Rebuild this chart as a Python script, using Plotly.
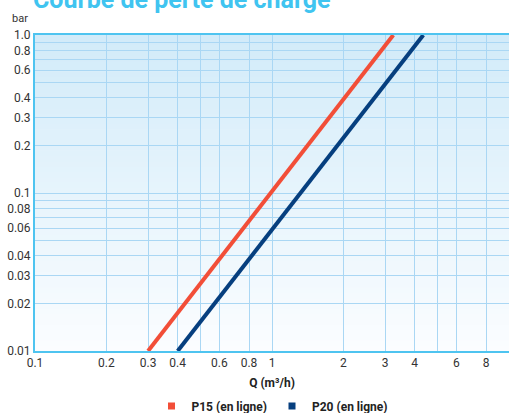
import plotly.graph_objects as go

# Data
q_p15 = [0.3, 3.25]          # Q (m3/h)
dp_p15 = [0.01, 1.0]         # bar
q_p20 = [0.4, 4.35]
dp_p20 = [0.01, 1.0]

x_grid = [0.1, 0.2, 0.3, 0.4, 0.5, 0.6, 0.8, 1, 2, 3, 4, 5, 6, 8, 10]
x_labels = ["0.1", "0.2", "0.3", "0.4", "", "0.6", "0.8", "1", "2", "3", "4", "", "6", "8", "10"]
y_grid = [0.01, 0.02, 0.03, 0.04, 0.05, 0.06, 0.07, 0.08, 0.09,
          0.1, 0.2, 0.3, 0.4, 0.5, 0.6, 0.7, 0.8, 0.9, 1.0]
y_labels = ["0.01", "0.02", "0.03", "0.04", "", "0.06", "", "0.08", "",
            "0.1", "0.2", "0.3", "0.4", "", "0.6", "", "0.8", "", "1.0"]

RED = "#f24e38"
BLUE = "#063f7f"
GRID = "#aad7f4"
AXIS = "#4ec4f0"

fig = go.Figure()
fig.add_trace(go.Scatter(x=q_p15, y=dp_p15, mode="lines", line=dict(color=RED, width=4),
                         showlegend=False))
fig.add_trace(go.Scatter(x=q_p20, y=dp_p20, mode="lines", line=dict(color=BLUE, width=4),
                         showlegend=False))
# legend entries with square symbols
fig.add_trace(go.Scatter(x=[None], y=[None], mode="markers", name="P15 (en ligne)",
                         marker=dict(symbol="square", size=7, color=RED)))
fig.add_trace(go.Scatter(x=[None], y=[None], mode="markers", name="P20 (en ligne)",
                         marker=dict(symbol="square", size=7, color=BLUE)))

# vertical gradient background
N = 60
top = (210, 235, 249)
bot = (251, 253, 255)
shapes = []
for i in range(N):
    t = (i + 0.5) / N  # 0 bottom -> 1 top
    c = tuple(int(round(bot[k] + (top[k] - bot[k]) * t)) for k in range(3))
    shapes.append(dict(type="rect", xref="paper", yref="paper", x0=0, x1=1,
                       y0=i / N, y1=(i + 1) / N + 0.002, fillcolor="rgb(%d,%d,%d)" % c,
                       line=dict(width=0), layer="below"))

font_family = "Roboto, Open Sans, sans-serif"

fig.update_layout(
    width=509, height=413,
    margin=dict(l=35, r=0, t=35, b=62, autoexpand=False),
    paper_bgcolor="white", plot_bgcolor="white",
    shapes=shapes,
    font=dict(family=font_family, size=12, color="#333333"),
    legend=dict(orientation="h", x=0.5, xanchor="center", y=-0.174, yanchor="middle",
                font=dict(size=12, color="#222222", family=font_family, weight="bold"),
                itemwidth=30, bgcolor="rgba(0,0,0,0)"),
    annotations=[
        dict(text="<b>Courbe de perte de charge</b>", xref="paper", yref="paper",
             x=-0.008, y=1.060, xanchor="left", yanchor="bottom", showarrow=False,
             font=dict(size=25, color="#40c4f0")),
        dict(text="bar", xref="paper", yref="paper", x=-0.01, y=1.053,
             xanchor="right", yanchor="middle", showarrow=False,
             font=dict(size=11, color="#333333")),
    ],
)
fig.update_xaxes(type="log", range=[-1, 1], tickmode="array", tickvals=x_grid, ticktext=x_labels,
                 showgrid=True, gridcolor=GRID, gridwidth=1.3, automargin=False,
                 showline=True, linecolor=AXIS, linewidth=2, mirror=True,
                 zeroline=False, ticks="", tickfont=dict(size=12),
                 title=dict(text="<b>Q (m³/h)</b>", font=dict(size=12, color="#222222"), standoff=9))
fig.update_yaxes(type="log", range=[-2, 0], tickmode="array", tickvals=y_grid, ticktext=y_labels,
                 showgrid=True, gridcolor=GRID, gridwidth=1.3, automargin=False,
                 showline=True, linecolor=AXIS, linewidth=2, mirror=True,
                 zeroline=False, ticks="", tickfont=dict(size=12))

fig.write_html("out.html", config={"displayModeBar": False})

# page styling: no body margin, no scrollbars
css = ("<style>html,body{margin:0;padding:0;overflow:hidden;scrollbar-width:none;}"
       "::-webkit-scrollbar{display:none;width:0;height:0;}</style>")
with open("out.html", encoding="utf-8") as f:
    html = f.read()
html = html.replace("<head>", "<head>" + css, 1)
with open("out.html", "w", encoding="utf-8") as f:
    f.write(html)
